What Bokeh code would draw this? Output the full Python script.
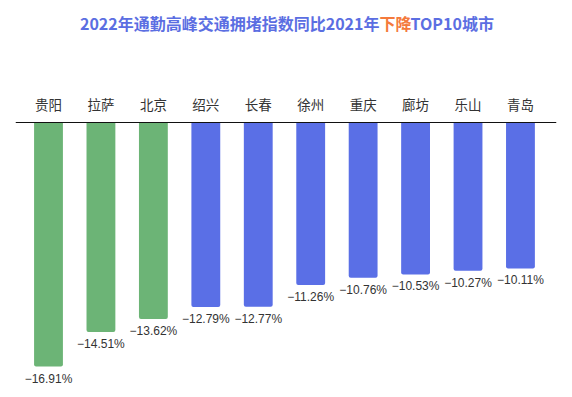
from bokeh.plotting import figure
from bokeh.models import ColumnDataSource, Range1d, Span
from bokeh.core.properties import value
from bokeh.embed import file_html
from bokeh.resources import INLINE

cities = ["贵阳", "拉萨", "北京", "绍兴", "长春", "徐州", "重庆", "廊坊", "乐山", "青岛"]
changes = [-16.91, -14.51, -13.62, -12.79, -12.77, -11.26, -10.76, -10.53, -10.27, -10.11]
groups = ["g", "g", "g", "b", "b", "b", "b", "b", "b", "b"]
title_parts = ["2022年通勤高峰交通拥堵指数同比2021年", "下降", "TOP10城市"]

GREEN = "#6cb476"
BLUE = "#5a6fe6"
TITLE_BLUE = "#5b6ee2"
ORANGE = "#f47a3c"

xs = list(range(len(cities)))
colors = [GREEN if g == "g" else BLUE for g in groups]
labels = ["−%.2f%%" % abs(v) for v in changes]
src = ColumnDataSource(dict(x=xs, top=[0] * len(xs), bottom=changes, color=colors,
                            city=cities, label=labels))

SP = 52.44
PX_Y = 14.43
x0, x1 = (15 - 48) / SP, (556 - 48) / SP
H = 389
y_top, y_bot = 122 / PX_Y, -(H - 122) / PX_Y

p = figure(width=564, height=H, output_backend="svg", toolbar_location=None,
           x_range=Range1d(x0, x1), y_range=Range1d(y_bot, y_top),
           min_border_left=15, min_border_right=8, min_border_top=0, min_border_bottom=0)
p.axis.visible = False
p.grid.visible = False
p.outline_line_color = None
p.background_fill_color = "white"
p.border_fill_color = "white"

p.vbar(x="x", top="top", bottom="bottom", width=0.55, color="color", source=src,
       line_color=None, border_radius=(0, 0, 2, 2))

p.add_layout(Span(location=0, dimension="width", line_color="#111111", line_width=1.2))

p.text(x="x", y="top", text="city", source=src, y_offset=-19,
       text_align="center", text_baseline="middle", text_font=value("Noto Sans CJK SC"),
       text_font_size="13.5px", text_color="#333333")

p.text(x="x", y="bottom", text="label", source=src, y_offset=12,
       text_align="center", text_baseline="middle", text_font=value("Liberation Sans"),
       text_font_size="12px", text_color="#333333")

def sx(px):
    return (px - 48) / SP

common = dict(text_baseline="middle", text_font=value("Noto Sans CJK SC"),
              text_font_size="16px", text_font_style="bold", y_offset=22)
p.text(x=[sx(379)], y=[y_top], text=[title_parts[0]], text_align="right",
       text_color=TITLE_BLUE, **common)
p.text(x=[sx(379)], y=[y_top], text=[title_parts[1]], text_align="left",
       text_color=ORANGE, **common)
p.text(x=[sx(410)], y=[y_top], text=[title_parts[2]], text_align="left",
       text_color=TITLE_BLUE, **common)

open("out.html", "w").write(file_html(p, INLINE))
